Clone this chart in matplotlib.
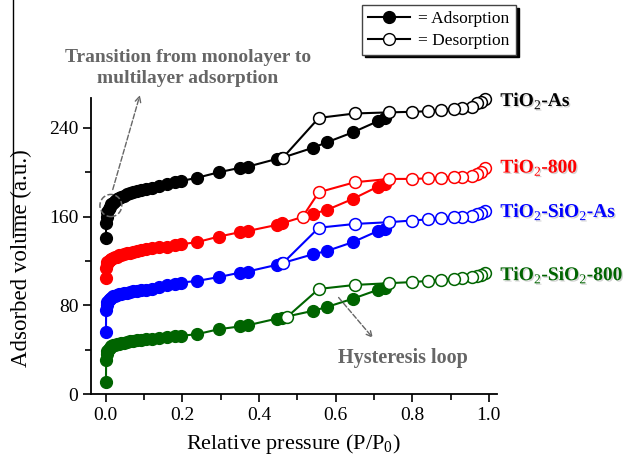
import numpy as np
import matplotlib
matplotlib.use("Agg")
import matplotlib.pyplot as plt
from matplotlib.patches import Ellipse
from matplotlib.lines import Line2D
import matplotlib.patheffects as pe

plt.rcParams["font.family"] = ["Liberation Serif", "DejaVu Serif"]
plt.rcParams["mathtext.fontset"] = "custom"
plt.rcParams["mathtext.rm"] = "Liberation Serif"
plt.rcParams["mathtext.bf"] = "Liberation Serif:bold"

# ---- data -------------------------------------------------------------
x_ads = [0.0002, 0.0008, 0.002, 0.004, 0.007, 0.01, 0.014, 0.018, 0.023,
         0.028, 0.034, 0.04, 0.047, 0.055, 0.063, 0.072, 0.082, 0.093,
         0.105, 0.12, 0.14, 0.16, 0.18, 0.195, 0.238, 0.295, 0.35, 0.37,
         0.446, 0.46, 0.54, 0.577, 0.645, 0.71, 0.73]
x_des = [0.99, 0.98, 0.97, 0.955, 0.93, 0.91, 0.875, 0.84, 0.80, 0.74,
         0.65, 0.556]

tio2_as_ads = [141, 154, 160, 164, 167, 169, 171, 172.5, 174, 175.5, 177,
               178, 179, 180, 181, 182, 183, 184, 185, 186, 187.5, 189, 191,
               192, 195, 200, 204, 205, 212, 213, 222, 227, 236, 246, 249]
tio2_as_des = [266, 263.5, 262, 259, 258, 257, 256, 255, 254.5, 254, 253, 249]
tio2_as_des_end = (0.462, 213)

tio2_800_ads = [105, 114, 117, 119, 120, 121, 122, 123, 123.5, 124, 125,
                125.5, 126, 127, 127.5, 128, 129, 130, 131, 131.5, 132.5, 133,
                134, 135, 137, 142, 146, 147, 152.5, 154, 162.5, 166, 176,
                187, 189]
tio2_800_des = [204, 200, 198.5, 197, 196, 196, 195, 194.5, 194, 194, 191, 182]
tio2_800_des_end = (0.514, 160)

tsi_as_ads = [56, 76, 80, 83, 85, 86, 87, 88, 88.5, 89, 90, 90.5, 91, 91.5,
              92, 92.5, 93, 93.5, 94, 95, 96.5, 98, 99.5, 100.5, 102, 105.5,
              109.5, 110.5, 116.5, 118, 126, 129, 137, 147, 149]
tsi_as_des = [165, 163, 162.5, 161, 160, 159.5, 158.5, 157.5, 156.5, 155,
              153.4, 150]
tsi_as_des_end = (0.462, 118)

tsi_800_ads = [11, 31, 36, 39, 41, 42, 43, 44, 44.5, 45, 45.5, 46, 46.5, 47,
               47.5, 48, 48.5, 49, 49.5, 50, 51, 51.5, 52, 52.5, 54, 58.5, 61,
               62, 68, 69, 75, 78.5, 86, 94, 96]
tsi_800_des = [109, 107.5, 106.5, 105.5, 104.5, 103.5, 102.5, 102, 101, 100,
               98.4, 94.8]
tsi_800_des_end = (0.473, 69.5)

series = [
    ("TiO$_2$-As", "black", tio2_as_ads, tio2_as_des, tio2_as_des_end, 264),
    ("TiO$_2$-800", "#ff0000", tio2_800_ads, tio2_800_des, tio2_800_des_end, 204),
    ("TiO$_2$-SiO$_2$-As", "#0000ff", tsi_as_ads, tsi_as_des, tsi_as_des_end, 164),
    ("TiO$_2$-SiO$_2$-800", "#006400", tsi_800_ads, tsi_800_des, tsi_800_des_end, 107),
]

# ---- figure ------------------------------------------------------------
fig = plt.figure(figsize=(6.27, 4.62), dpi=100)
ax = fig.add_axes([0.145, 0.147, 0.6475, 0.641])

ms = 8.5
for name, col, ads, des, end, ylab in series:
    ax.plot(x_ads, ads, "-o", color=col, lw=1.5, ms=ms, mfc=col, mec=col,
            clip_on=False, zorder=3)
    xd = x_des + [end[0]]
    yd = des + [end[1]]
    ax.plot(xd, yd, "-o", color=col, lw=1.5, ms=ms, mfc="white", mec=col,
            mew=1.1, clip_on=False, zorder=4)
    ax.text(1.03, ylab, name, color=col, fontsize=14, fontweight="bold",
            va="center", ha="left", clip_on=False,
            path_effects=[pe.withSimplePatchShadow(offset=(1, -1),
                                                   shadow_rgbFace="gray",
                                                   alpha=0.35)])

ax.set_xlim(-0.039, 1.021)
ax.set_ylim(0, 267)
ax.set_xticks([0.0, 0.2, 0.4, 0.6, 0.8, 1.0])
ax.set_xticks([0.1, 0.3, 0.5, 0.7, 0.9], minor=True)
ax.set_yticks([0, 80, 160, 240])
ax.set_yticks([40, 120, 200], minor=True)
ax.xaxis.set_major_formatter(plt.FormatStrFormatter("%.1f"))
ax.tick_params(which="major", direction="out", length=6, width=1.2,
               labelsize=14, pad=3)
ax.tick_params(which="minor", direction="out", length=4, width=1.2)
for s in ("top", "right"):
    ax.spines[s].set_visible(False)
for s in ("left", "bottom"):
    ax.spines[s].set_linewidth(1.3)

ax.set_xlabel("Relative pressure (P/P$_0$)", fontsize=16, labelpad=6)
ax.set_ylabel("Adsorbed volume (a.u.)", fontsize=16.5)
ax.yaxis.set_label_coords(-0.145, 0.46)

# annotations
gray = "#666666"
ax.add_patch(Ellipse((0.013, 170), 0.057, 20, fill=False, ls="--",
                     ec=gray, lw=1.1, zorder=6))
ax.annotate("", xy=(0.091, 272), xytext=(0.016, 182), annotation_clip=False,
            arrowprops=dict(arrowstyle="->", ls="--", color=gray, lw=1.0))
fig.text(188 / 627, 1 - 68 / 462,
         "Transition from monolayer to\nmultilayer adsorption",
         ha="center", va="center", fontsize=14, fontweight="bold",
         color=gray, linespacing=1.3)
ax.annotate("", xy=(0.702, 48.7), xytext=(0.603, 89), annotation_clip=False,
            arrowprops=dict(arrowstyle="->", ls="--", color=gray, lw=1.0))
ax.text(0.775, 32.5, "Hysteresis loop", ha="center", va="center",
        fontsize=14.5, fontweight="bold", color=gray)

# legend
h_ads = Line2D([], [], color="black", marker="o", ms=ms, lw=1.5,
               mfc="black", mec="black")
h_des = Line2D([], [], color="black", marker="o", ms=ms, lw=1.5,
               mfc="white", mec="black")
leg = fig.legend([h_ads, h_des], ["= Adsorption", "= Desorption"],
                 loc="upper left", bbox_to_anchor=(362 / 627, 1 - 5 / 462),
                 fontsize=12.5, frameon=True, fancybox=False,
                 shadow={"color": "black", "alpha": 1},
                 handlelength=2.4, handletextpad=0.5, labelspacing=0.3,
                 borderpad=0.35, borderaxespad=0)
leg.get_frame().set_edgecolor("#444444")
leg.get_frame().set_linewidth(1.0)

# frame fragment at left edge of the original image
fig.add_artist(Line2D([13 / 627, 13 / 627], [1, 1 - 237 / 462],
                      color="black", lw=1.0))

fig.savefig("out.png", dpi=100)
